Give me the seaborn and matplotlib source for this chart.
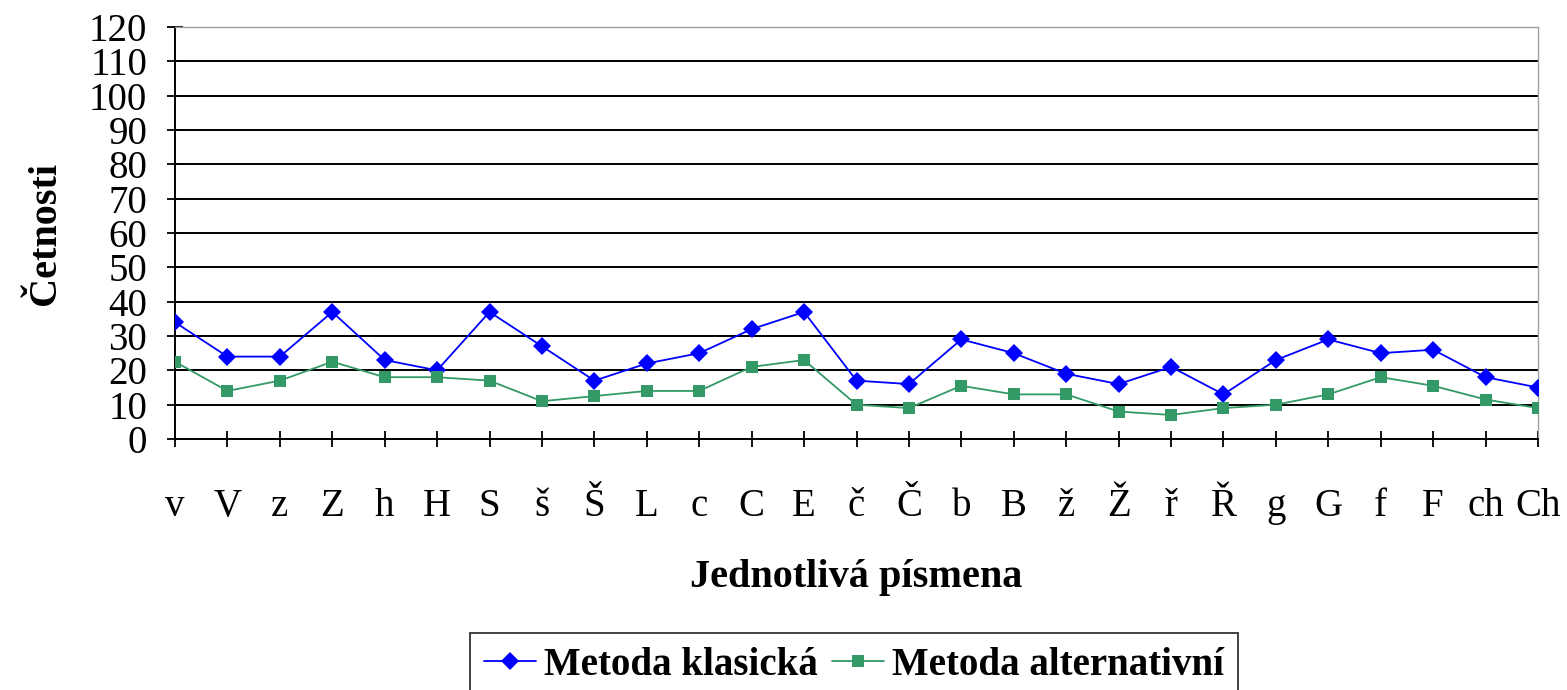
import numpy as np
import pandas as pd
import matplotlib
matplotlib.use("Agg")
import matplotlib.pyplot as plt
import seaborn as sns

letters = ["v", "V", "z", "Z", "h", "H", "S", "š", "Š", "L", "c", "C", "E", "č", "Č",
           "b", "B", "ž", "Ž", "ř", "Ř", "g", "G", "f", "F", "ch", "Ch"]
klasicka = [34, 24, 24, 37, 23, 20, 37, 27, 17, 22, 25, 32, 37, 17, 16,
            29, 25, 19, 16, 21, 13, 23, 29, 25, 26, 18, 15]
alternativni = [22.5, 14, 17, 22.5, 18, 18, 17, 11, 12.5, 14, 14, 21, 23, 10, 9,
                15.5, 13, 13, 8, 7, 9, 10, 13, 18, 15.5, 11.5, 9]
series_names = ["Metoda klasická", "Metoda alternativní"]
y_ticks = list(range(0, 121, 10))

sns.set_theme(style="white")
plt.rcParams["font.family"] = ["Liberation Serif", "DejaVu Serif"]
plt.rcParams["text.color"] = "black"
plt.rcParams["axes.labelcolor"] = "black"
plt.rcParams["xtick.color"] = "black"
plt.rcParams["ytick.color"] = "black"

pos = np.arange(len(letters))
df = pd.DataFrame({
    "pos": np.concatenate([pos, pos]),
    "value": klasicka + alternativni,
    "series": [series_names[0]] * len(letters) + [series_names[1]] * len(letters),
})

fig = plt.figure(figsize=(15.67, 6.9), dpi=100)
ax = fig.add_axes([175 / 1567, 1 - 439 / 690, (1538 - 175) / 1567, (439 - 27) / 690])

sns.lineplot(data=df, x="pos", y="value", hue="series", style="series",
             palette={series_names[0]: "#0000FF", series_names[1]: "#339966"},
             markers={series_names[0]: "D", series_names[1]: "s"},
             dashes=False, markersize=9, linewidth=1.3, markeredgewidth=0,
             ax=ax, legend=True, zorder=3)

ax.set_xlim(0, len(letters) - 1)
ax.set_ylim(0, 120)
ax.set_yticks(y_ticks)
ax.set_yticklabels([str(t) for t in y_ticks], fontsize=28)
ax.set_xticks(pos)
ax.set_xticklabels(letters, fontsize=28)
ax.yaxis.grid(True, color="black", linewidth=1.4)
ax.xaxis.grid(False)
ax.set_axisbelow(True)

ax.tick_params(axis="y", direction="inout", length=12, width=1.3, color="black", pad=14, left=True)
ax.tick_params(axis="x", direction="inout", length=12, width=1.3, color="black", pad=29, bottom=True)

for side in ["left", "bottom"]:
    ax.spines[side].set_color("black")
    ax.spines[side].set_linewidth(1.4)
for side in ["top", "right"]:
    ax.spines[side].set_color("#a0a0a0")
    ax.spines[side].set_linewidth(1.0)

ax.set_ylabel("Četnosti", fontsize=29, fontweight="bold", labelpad=18)
ax.set_xlabel("Jednotlivá písmena", fontsize=29, fontweight="bold", labelpad=25)

handles, labels = ax.get_legend_handles_labels()
ax.get_legend().remove()
leg = fig.legend(handles, labels, loc="upper center",
                 bbox_to_anchor=(854 / 1567, 1 - 633 / 690), ncol=2,
                 frameon=True, fancybox=False, edgecolor="black",
                 prop={"weight": "bold", "size": 28, "family": "Liberation Serif"},
                 handlelength=1.35, columnspacing=0.35, handletextpad=0.2,
                 borderpad=0.36, borderaxespad=0)
leg.get_frame().set_linewidth(1.3)

fig.savefig("out.png", dpi=100, facecolor="white")
